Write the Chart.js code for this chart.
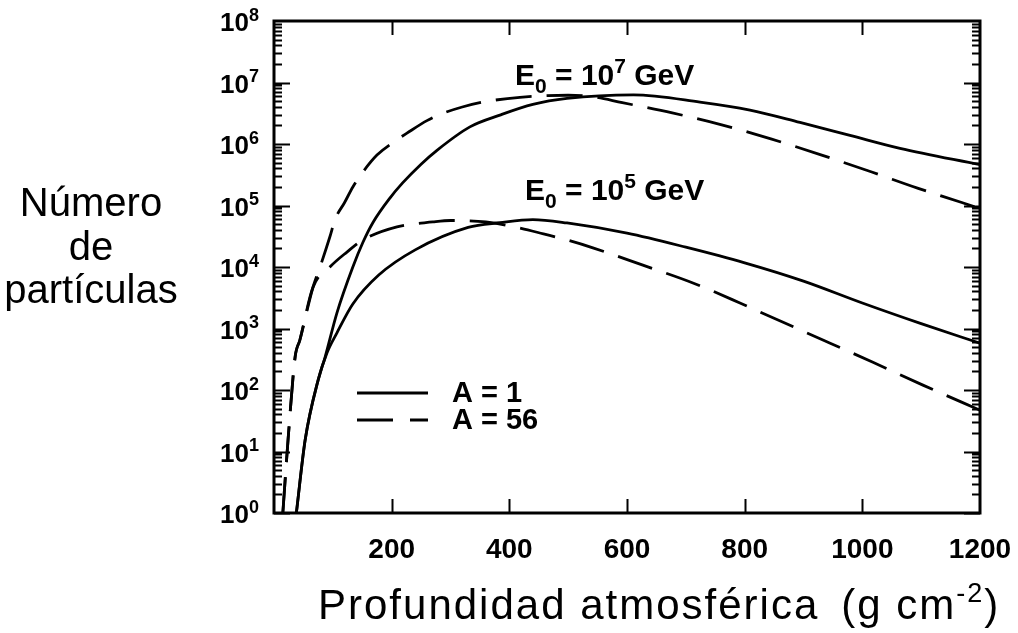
<!DOCTYPE html>
<html>
<head>
<meta charset="utf-8">
<script src="https://cdn.jsdelivr.net/npm/chart.js@4.4.1/dist/chart.umd.min.js"></script>
<style>
  html, body { margin: 0; padding: 0; background: #fff; }
  #wrap { width: 1018px; height: 633px; }
</style>
</head>
<body>
<div id="wrap"><canvas id="chart" width="1018" height="633"></canvas></div>
<script>
// Profundidad atmosférica (g cm^-2) y número de partículas
const depthE7A1  = [38, 53, 75, 87, 107, 134, 151, 168, 197, 219, 250, 277, 333, 384, 440, 498, 611, 724, 809, 894, 979, 1064, 1200];
const partE7A1   = [1, 15.5, 145, 347, 1.8e3, 1.0e4, 2.5e4, 5.25e4, 1.32e5, 2.35e5, 4.7e5, 7.9e5, 1.9e6, 2.95e6, 4.4e6, 5.5e6, 6.3e6, 4.8e6, 3.55e6, 2.24e6, 1.38e6, 8.5e5, 4.6e5];

const depthE7A56 = [15, 24, 36, 44, 66, 80, 95, 104, 120, 134, 146, 175, 209, 226, 260, 287, 320, 355, 418, 500, 540, 592, 677, 761, 846, 931, 1016, 1095, 1169, 1200];
const partE7A56  = [1, 16, 350, 650, 4.6e3, 1.12e4, 3.1e4, 6.0e4, 1.12e5, 2.0e5, 3.0e5, 6.6e5, 1.17e6, 1.5e6, 2.4e6, 3.15e6, 4.0e6, 4.8e6, 5.75e6, 6.2e6, 5.9e6, 4.7e6, 3.2e6, 2.05e6, 1.2e6, 6.6e5, 3.5e5, 1.9e5, 1.12e5, 8.9e4];

const depthE5A1  = [38, 53, 75, 90, 107, 134, 178, 240, 330, 384, 440, 498, 600, 700, 800, 900, 1000, 1100, 1200];
const partE5A1   = [1, 15.5, 145, 400, 850, 2.5e3, 7.4e3, 1.9e4, 4.4e4, 5.25e4, 5.9e4, 5.2e4, 3.55e4, 2.1e4, 1.17e4, 5.9e3, 2.6e3, 1.2e3, 575];

const depthE5A56 = [15, 24, 36, 44, 66, 95, 124, 151, 209, 270, 300, 360, 420, 458, 498, 542, 627, 712, 792, 849, 934, 1018, 1103, 1200];
const partE5A56  = [1, 16, 350, 650, 4.6e3, 1.0e4, 1.75e4, 2.75e4, 4.5e4, 5.4e4, 5.7e4, 5.4e4, 4.25e4, 3.45e4, 2.75e4, 2.05e4, 1.07e4, 5.5e3, 2.6e3, 1.48e3, 645, 282, 120, 47];

const xTickValues = [200, 400, 600, 800, 1000, 1200];
const yTickBase = '10';
const yTickExponents = ['0', '1', '2', '3', '4', '5', '6', '7', '8'];
const legendLabels = ['A = 1', 'A = 56'];

const toPoints = (xs, ys) => xs.map((v, i) => ({ x: v, y: ys[i] }));

const DASH = [36, 15];
const FONT = '"Liberation Sans", Arial, sans-serif';

function serie(xs, ys, dashed) {
  return {
    data: toPoints(xs, ys),
    borderColor: '#000',
    borderWidth: 2.8,
    borderDash: dashed ? DASH : [],
    pointRadius: 0,
    fill: false,
    showLine: true,
    cubicInterpolationMode: 'monotone'
  };
}

// dibuja texto con sub/superíndices por trozos
function drawPieces(ctx, x, y, pieces) {
  let cx = x;
  pieces.forEach(p => {
    ctx.font = p.font;
    ctx.fillText(p.t, cx, y + (p.dy || 0));
    cx += ctx.measureText(p.t).width + (p.gap || 0);
  });
}

const marcoYTextos = {
  id: 'marcoYTextos',
  afterDatasetsDraw(chart) {
    const { ctx, chartArea: a, scales: { x, y } } = chart;
    ctx.save();
    ctx.strokeStyle = '#000';
    ctx.fillStyle = '#000';

    // marco
    ctx.lineWidth = 3;
    ctx.strokeRect(a.left, a.top, a.right - a.left, a.bottom - a.top);

    // marcas hacia adentro
    ctx.lineWidth = 2;
    ctx.beginPath();
    for (let k = 0; k < 8; k++) {
      for (let m = 1; m < 10; m++) {
        const py = Math.round(y.getPixelForValue(m * Math.pow(10, k))) + 0.5;
        const len = m === 1 ? 16 : 8;
        ctx.moveTo(a.left, py);  ctx.lineTo(a.left + len, py);
        ctx.moveTo(a.right, py); ctx.lineTo(a.right - len, py);
      }
    }
    xTickValues.slice(0, -1).forEach(v => {
      const px = Math.round(x.getPixelForValue(v)) + 0.5;
      ctx.moveTo(px, a.bottom); ctx.lineTo(px, a.bottom - 14);
      ctx.moveTo(px, a.top);    ctx.lineTo(px, a.top + 14);
    });
    ctx.stroke();

    // etiquetas del eje y: 10 con exponente
    ctx.textBaseline = 'middle';
    y.ticks.forEach((t, i) => {
      const py = y.getPixelForValue(t.value);
      const right = a.left - 15;
      ctx.font = 'bold 18px ' + FONT;
      const we = ctx.measureText(yTickExponents[i]).width;
      ctx.textAlign = 'left';
      ctx.fillText(yTickExponents[i], right - we, py - 5);
      ctx.font = 'bold 26px ' + FONT;
      ctx.textAlign = 'right';
      ctx.fillText(yTickBase, right - we, py + 3);
    });

    // anotaciones de energía
    ctx.textBaseline = 'alphabetic';
    ctx.textAlign = 'left';
    const big = 'bold 30px ' + FONT;
    const small = 'bold 21px ' + FONT;
    drawPieces(ctx, 515, 85, [
      { t: 'E', font: big }, { t: '0', font: small, dy: 8 },
      { t: ' = 10', font: big }, { t: '7', font: small, dy: -12 },
      { t: ' GeV', font: big }
    ]);
    drawPieces(ctx, 525, 200, [
      { t: 'E', font: big }, { t: '0', font: small, dy: 8 },
      { t: ' = 10', font: big }, { t: '5', font: small, dy: -12 },
      { t: ' GeV', font: big }
    ]);

    // leyenda
    ctx.lineWidth = 2.8;
    ctx.setLineDash([]);
    ctx.beginPath(); ctx.moveTo(357, 393); ctx.lineTo(428, 393); ctx.stroke();
    ctx.setLineDash([36, 17]);
    ctx.beginPath(); ctx.moveTo(357, 420); ctx.lineTo(428, 420); ctx.stroke();
    ctx.setLineDash([]);
    ctx.font = 'bold 29px ' + FONT;
    ctx.textBaseline = 'middle';
    ctx.fillText(legendLabels[0], 452, 394);
    ctx.fillText(legendLabels[1], 452, 421);

    // títulos de ejes
    ctx.font = '40px ' + FONT;
    ctx.textAlign = 'center';
    ctx.textBaseline = 'middle';
    ctx.fillText('Número', 91, 205);
    ctx.fillText('de', 91, 249);
    ctx.fillText('partículas', 91, 292);

    const tf = '42px ' + FONT;
    ctx.textAlign = 'left';
    ctx.textBaseline = 'alphabetic';
    ctx.letterSpacing = '2px';
    drawPieces(ctx, 318, 619, [
      { t: 'Profundidad atmosférica', font: tf, gap: 22 },
      { t: '(g cm', font: tf },
      { t: '-2', font: '27px ' + FONT, dy: -17 },
      { t: ')', font: tf }
    ]);
    ctx.restore();
  }
};

Chart.defaults.font.family = FONT;
Chart.defaults.color = '#000';

new Chart(document.getElementById('chart').getContext('2d'), {
  type: 'scatter',
  data: {
    datasets: [
      serie(depthE7A1, partE7A1, false),
      serie(depthE7A56, partE7A56, true),
      serie(depthE5A1, partE5A1, false),
      serie(depthE5A56, partE5A56, true)
    ]
  },
  options: {
    responsive: false,
    animation: false,
    devicePixelRatio: 1,
    layout: { padding: { left: 0, right: 38, top: 21, bottom: 0 } },
    plugins: { legend: { display: false }, tooltip: { enabled: false } },
    scales: {
      x: {
        type: 'linear',
        min: 0, max: 1200,
        afterFit: s => { s.height = 120; s.paddingLeft = 0; s.paddingRight = 0; },
        grid: { display: false, drawTicks: false },
        border: { display: false },
        ticks: {
          stepSize: 200,
          padding: 20,
          font: { size: 28, weight: 'bold' },
          callback: v => (v === 0 ? '' : String(v))
        }
      },
      y: {
        type: 'logarithmic',
        min: 1, max: 1e8,
        afterFit: s => { s.width = 274; s.paddingTop = 0; s.paddingBottom = 0; },
        afterBuildTicks: s => {
          s.ticks = yTickExponents.map((_, i) => ({ value: Math.pow(10, i) }));
        },
        grid: { display: false, drawTicks: false },
        border: { display: false },
        ticks: { display: false }
      }
    }
  },
  plugins: [marcoYTextos]
});
</script>
</body>
</html>
